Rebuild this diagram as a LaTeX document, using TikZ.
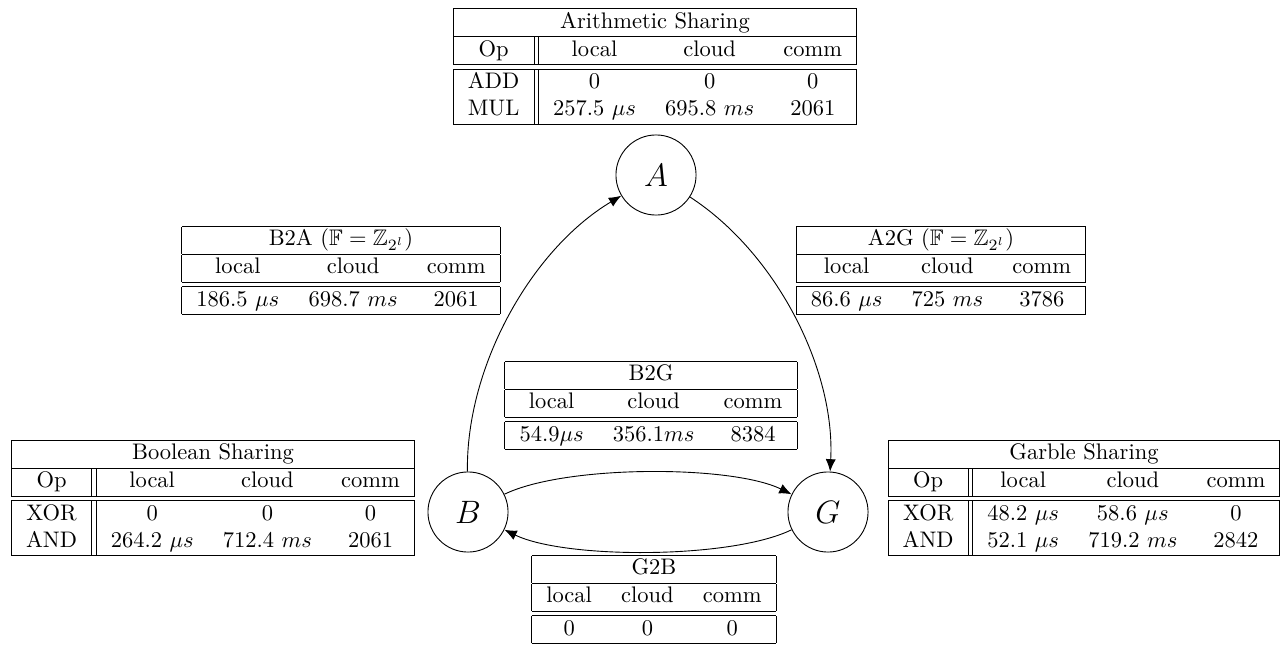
\documentclass[tikz,border=0pt]{standalone}
\usepackage{amssymb}
\usetikzlibrary{arrows.meta}
\setlength{\tabcolsep}{6.5pt}
\begin{document}
\begin{tikzpicture}[x=0.44444pt,y=-0.44444pt,
  tbl/.style={inner sep=0pt, outer sep=0pt},
  state/.style={circle, draw, minimum size=35.6pt, inner sep=0pt, font=\Large},
  arr/.style={-{Latex[length=5.5pt,width=4.5pt]}}]
\useasboundingbox (0,0) rectangle (1280,651);

\node[state] (A) at (656,175) {$A$};
\node[state] (B) at (468,512) {$B$};
\node[state] (G) at (828,512) {$G$};

\node[tbl] (arith) at (655,66.5) {\begin{tabular}{|c||ccc|}
\hline
\multicolumn{4}{|c|}{Arithmetic Sharing}\\
\hline
Op & local & cloud & comm\\
\hline\hline
ADD & 0 & 0 & 0\\
MUL & 257.5 $\mu s$ & 695.8 $ms$ & 2061\\
\hline
\end{tabular}};

\node[tbl] (b2a) at (341,270.5) {\begin{tabular}{|ccc|}
\hline
\multicolumn{3}{|c|}{B2A ($\mathbb{F}=\mathbb{Z}_{2^l}$)}\\
\hline
local & cloud & comm\\
\hline\hline
186.5 $\mu s$ & 698.7 $ms$ & 2061\\
\hline
\end{tabular}};

\node[tbl] (a2g) at (941,270.5) {\begin{tabular}{|ccc|}
\hline
\multicolumn{3}{|c|}{A2G ($\mathbb{F}=\mathbb{Z}_{2^l}$)}\\
\hline
local & cloud & comm\\
\hline\hline
86.6 $\mu s$ & 725 $ms$ & 3786\\
\hline
\end{tabular}};

\node[tbl] (b2g) at (651,405.5) {\begin{tabular}{|ccc|}
\hline
\multicolumn{3}{|c|}{B2G}\\
\hline
local & cloud & comm\\
\hline\hline
54.9$\mu s$ & 356.1$ms$ & 8384\\
\hline
\end{tabular}};

\node[tbl] (bool) at (213,498) {\begin{tabular}{|c||ccc|}
\hline
\multicolumn{4}{|c|}{Boolean Sharing}\\
\hline
Op & local & cloud & comm\\
\hline\hline
XOR & 0 & 0 & 0\\
AND & 264.2 $\mu s$ & 712.4 $ms$ & 2061\\
\hline
\end{tabular}};

\node[tbl] (garble) at (1084,498) {\begin{tabular}{|c||ccc|}
\hline
\multicolumn{4}{|c|}{Garble Sharing}\\
\hline
Op & local & cloud & comm\\
\hline\hline
XOR & 48.2 $\mu s$ & 58.6 $\mu s$ & 0\\
AND & 52.1 $\mu s$ & 719.2 $ms$ & 2842\\
\hline
\end{tabular}};

\node[tbl, anchor=north] (g2b) at (654,555) {\begin{tabular}{|ccc|}
\hline
\multicolumn{3}{|c|}{G2B}\\
\hline
local & cloud & comm\\
\hline\hline
0 & 0 & 0\\
\hline
\end{tabular}};

\draw[arr] (B) to[bend left=30, looseness=0.85] (A);
\draw[arr] (A) to[bend left=30, looseness=0.85] (G);
\draw[arr] (B) to[bend left=26, looseness=0.6] (G);
\draw[arr] (G) to[bend left=26, looseness=0.6] (B);
\end{tikzpicture}
\end{document}
